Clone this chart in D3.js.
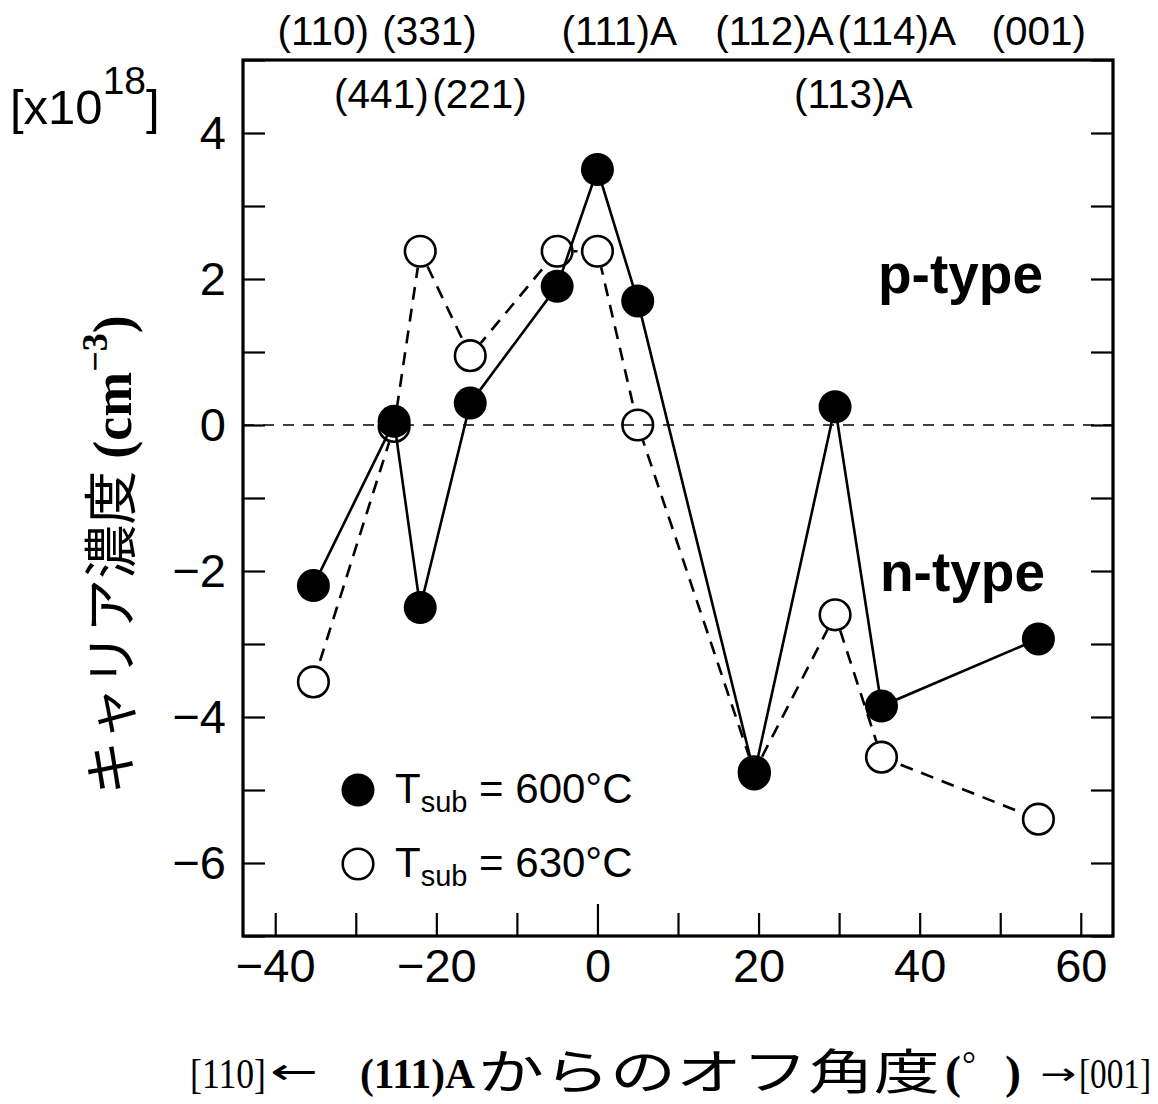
<!DOCTYPE html>
<html>
<head>
<meta charset="utf-8">
<script src="https://cdn.jsdelivr.net/npm/d3@7/dist/d3.min.js"></script>
<style>
  html, body { margin: 0; padding: 0; background: #fff; }
  svg { display: block; }
</style>
</head>
<body>
<script>
// Off-angle from (111)A toward [110] (negative) and [001] (positive), degrees
const offAngles = [-35.26, -25.24, -22.0, -15.79, -5, 0, 5, 19.47, 29.5, 35.26, 54.74];
// Carrier concentration, units of 1e18 cm^-3 (positive = p-type, negative = n-type)
const carrier600 = [-2.2, 0.05, -2.5, 0.3, 1.9, 3.5, 1.7, -4.78, 0.25, -3.85, -2.93];
const carrier630 = [-3.52, -0.02, 2.38, 0.95, 2.38, 2.38, 0.0, -4.75, -2.6, -4.55, -5.4];

// Crystal planes marked along the top of the frame
const planeNames  = ["(110)", "(331)", "(111)A", "(112)A", "(114)A", "(001)", "(441)", "(221)", "(113)A"];
const planeAngles = [-35.26, -22.0, 0, 19.47, 35.26, 54.74, -25.24, -15.79, 29.5];
const planeRow    = [0, 0, 0, 0, 0, 0, 1, 1, 1];

const xTicks = [-40, -30, -20, -10, 0, 10, 20, 30, 40, 50, 60];
const yTicks = [-7, -6, -5, -4, -3, -2, -1, 0, 1, 2, 3, 4, 5];

const seriesLabels = ["600°C", "630°C"];

const W = 1158, H = 1104;
const M = { left: 243, right: 1113, top: 60, bottom: 936 };
const SANS = "'Liberation Sans', Arial, Helvetica, sans-serif";
const SERIF = "'Liberation Serif', 'Times New Roman', serif";
const CJK = "'Noto Sans CJK JP', sans-serif";
const ARROWS = "'DejaVu Sans', sans-serif";

const svg = d3.select("body").append("svg")
  .attr("width", W).attr("height", H)
  .style("background", "#fff");

const x = d3.scaleLinear().domain([-44, 64]).range([M.left, M.right]);
const y = d3.scaleLinear().domain([-7, 5]).range([M.bottom, M.top]);

// Bottom axis: inward ticks every 10°, labels every 20°
const gx = svg.append("g")
  .attr("transform", `translate(0,${M.bottom})`)
  .call(d3.axisBottom(x).tickValues(xTicks).tickSize(-23).tickPadding(13)
    .tickFormat(d => d % 20 === 0 ? d3.format("d")(d) : ""));
gx.select(".domain").remove();
gx.selectAll(".tick line").attr("stroke", "#000").attr("stroke-width", 2.2)
  .filter(d => d === 0).attr("y2", -32);
gx.selectAll(".tick text").attr("font-family", SANS).attr("font-size", 47).attr("fill", "#000");

// Left axis: inward ticks every 1, labels on even values
const gy = svg.append("g")
  .attr("transform", `translate(${M.left},0)`)
  .call(d3.axisLeft(y).tickValues(yTicks).tickSize(-22).tickPadding(17)
    .tickFormat(d => d % 2 === 0 && d > -7 ? d3.format("d")(d) : ""));
gy.select(".domain").remove();
gy.selectAll(".tick line").attr("stroke", "#000").attr("stroke-width", 2.2);
gy.selectAll(".tick text").attr("font-family", SANS).attr("font-size", 47).attr("fill", "#000");

// Right axis: ticks only
const gr = svg.append("g")
  .attr("transform", `translate(${M.right},0)`)
  .call(d3.axisRight(y).tickValues(yTicks).tickSize(-22).tickFormat(""));
gr.select(".domain").remove();
gr.selectAll(".tick line").attr("stroke", "#000").attr("stroke-width", 2.2);

// Frame
svg.append("rect")
  .attr("x", M.left).attr("y", M.top)
  .attr("width", M.right - M.left).attr("height", M.bottom - M.top)
  .attr("fill", "none").attr("stroke", "#000").attr("stroke-width", 3.2);

// Zero line separating p-type and n-type
svg.append("line")
  .attr("x1", M.left).attr("x2", M.right)
  .attr("y1", y(0)).attr("y2", y(0))
  .attr("stroke", "#000").attr("stroke-width", 1.6)
  .attr("stroke-dasharray", "11,9");

const R = 16.5;
const pts600 = offAngles.map((a, i) => [a, carrier600[i]]);
const pts630 = offAngles.map((a, i) => [a, carrier630[i]]);
const line = d3.line().x(d => x(d[0])).y(d => y(d[1]));

// Dashed 630°C trace stops at the rim of each open circle
const mask = svg.append("defs").append("mask").attr("id", "openHoles")
  .attr("maskUnits", "userSpaceOnUse")
  .attr("x", 0).attr("y", 0).attr("width", W).attr("height", H);
mask.append("rect").attr("width", W).attr("height", H).attr("fill", "#fff");
mask.selectAll("circle").data(pts630).join("circle")
  .attr("cx", d => x(d[0])).attr("cy", d => y(d[1])).attr("r", R)
  .attr("fill", "#000");

svg.append("path").datum(pts630)
  .attr("d", line).attr("fill", "none")
  .attr("stroke", "#000").attr("stroke-width", 2.6)
  .attr("stroke-dasharray", "13,9")
  .attr("mask", "url(#openHoles)");

svg.append("path").datum(pts600)
  .attr("d", line).attr("fill", "none")
  .attr("stroke", "#000").attr("stroke-width", 2.6);

svg.append("g").selectAll("circle").data(pts630).join("circle")
  .attr("cx", d => x(d[0])).attr("cy", d => y(d[1])).attr("r", R - 1.2)
  .attr("fill", "none").attr("stroke", "#000").attr("stroke-width", 2.6);

svg.append("g").selectAll("circle").data(pts600).join("circle")
  .attr("cx", d => x(d[0])).attr("cy", d => y(d[1])).attr("r", R)
  .attr("fill", "#000");

// Plane labels above / inside the top edge
const planeDx = { "(110)": -36, "(331)": -38, "(111)A": -36, "(112)A": -39, "(114)A": -44,
                  "(001)": -47, "(441)": -60, "(221)": -38, "(113)A": -41 };
const rowBaseline = [45, 108];
svg.append("g").selectAll("text").data(planeNames).join("text")
  .attr("x", (d, i) => x(planeAngles[i]) + planeDx[d])
  .attr("y", (d, i) => rowBaseline[planeRow[i]])
  .attr("font-family", SANS).attr("font-size", 40.5).attr("fill", "#000")
  .text(d => d);

// Conduction type annotations
svg.append("text").attr("x", 878).attr("y", 293)
  .attr("font-family", SANS).attr("font-weight", "bold").attr("font-size", 55)
  .text("p-type");
svg.append("text").attr("x", 880).attr("y", 591)
  .attr("font-family", SANS).attr("font-weight", "bold").attr("font-size", 55)
  .text("n-type");

// Legend
const legendY = [790, 864];
seriesLabels.forEach((lab, i) => {
  const cy = legendY[i];
  const c = svg.append("circle").attr("cx", 358).attr("cy", cy);
  if (i === 0) c.attr("r", R).attr("fill", "#000");
  else c.attr("r", R - 1.2).attr("fill", "none").attr("stroke", "#000").attr("stroke-width", 2.6);
  const t = svg.append("text").attr("x", 395).attr("y", cy + 13)
    .attr("font-family", SANS).attr("font-size", 42).attr("fill", "#000");
  t.append("tspan").text("T");
  t.append("tspan").attr("font-size", 29).attr("dy", 9).text("sub");
  t.append("tspan").attr("dy", -9).text(" = " + lab);
});

// Y-axis unit and title
const unit = svg.append("text").attr("x", 10).attr("y", 124)
  .attr("font-family", SANS).attr("font-size", 49).attr("fill", "#000");
unit.append("tspan").text("[x10");
unit.append("tspan").attr("font-size", 39).attr("dy", -30).text("18");
unit.append("tspan").attr("dy", 30).text("]");

const yTitle = svg.append("text")
  .attr("transform", "translate(131,555) rotate(-90)")
  .attr("text-anchor", "middle").attr("fill", "#000");
yTitle.append("tspan").attr("font-family", CJK).attr("font-size", 54).text("キャリア濃度 ");
yTitle.append("tspan").attr("font-family", SERIF).attr("font-weight", "bold").attr("font-size", 54).text("(cm");
yTitle.append("tspan").attr("font-family", SERIF).attr("font-weight", "bold").attr("font-size", 36).attr("dy", -24).text("−3");
yTitle.append("tspan").attr("font-family", SERIF).attr("font-weight", "bold").attr("font-size", 54).attr("dy", 24).text(")");

// X-axis title, pieced together left to right; each piece is fitted
// horizontally to a set width with a scale transform.
const xBase = 1088;
function piece(px, py, width, family, size, txt, weight) {
  const g = svg.append("g");
  const t = g.append("text").attr("x", 0).attr("y", 0)
    .attr("font-family", family).attr("font-size", size)
    .attr("font-weight", weight || "normal").attr("fill", "#000").text(txt);
  const natural = t.node().getComputedTextLength() || width;
  g.attr("transform", `translate(${px},${py}) scale(${width / natural},1)`);
}
piece(190, xBase, 76, SERIF, 42, "[110]");
piece(270, xBase - 4, 48, ARROWS, 36, "←");
piece(360, xBase, 115, SERIF, 42, "(111)A", "bold");
piece(478, xBase + 1, 462, CJK, 48, "からのオフ角度");
piece(945, xBase, 16, SERIF, 46, "(", "bold");
piece(962, xBase - 12, 14, SERIF, 36, "°");
piece(1005, xBase, 16, SERIF, 46, ")", "bold");
piece(1040, xBase - 4, 36, ARROWS, 30, "→");
piece(1079, xBase, 72, SERIF, 42, "[001]");
</script>
</body>
</html>
